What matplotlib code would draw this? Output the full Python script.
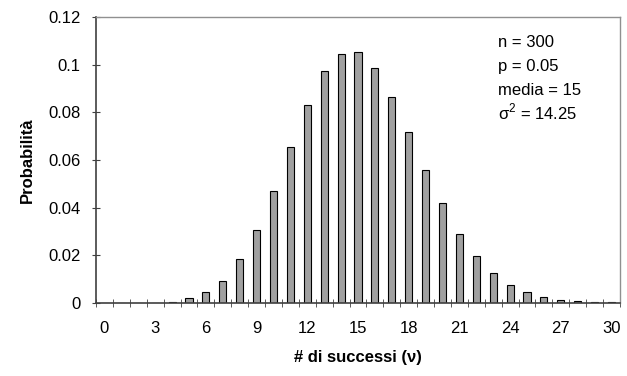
import matplotlib
matplotlib.use("Agg")
import matplotlib.pyplot as plt
import numpy as np

plt.rcParams['font.family'] = ['Liberation Sans', 'DejaVu Sans']

# numero di successi e probabilita
successi = list(range(31))
prob = [0, 0, 0, 0.0002, 0.0006, 0.002, 0.0045, 0.0092, 0.0185, 0.0306,
        0.0471, 0.0656, 0.0832, 0.0972, 0.1046, 0.1052, 0.0985, 0.0863,
        0.0716, 0.0558, 0.0418, 0.0288, 0.0197, 0.0125, 0.0074, 0.0045,
        0.0026, 0.0013, 0.0007, 0.0006, 0.0003]
y_ticks = [0, 0.02, 0.04, 0.06, 0.08, 0.1, 0.12]
y_labels = ["0", "0.02", "0.04", "0.06", "0.08", "0.1", "0.12"]
info = ["n = 300", "p = 0.05", "media = 15", r"σ$^{\mathregular{2}}$ = 14.25"]

fs = 12

fig = plt.figure(figsize=(6.27, 3.76), dpi=100)
ax = fig.add_axes([96/627, 1-303/376, 524/627, 286/376])

ax.bar(successi, prob, width=0.42, color='#a0a0a0', edgecolor='black', linewidth=0.8)

ax.set_xlim(-0.5, 30.5)
ax.set_ylim(0, 0.12)

ax.set_yticks(y_ticks)
ax.set_yticklabels(y_labels)
ax.set_xticks(successi[::3])
ax.set_xticklabels([str(s) for s in successi[::3]])
ax.set_xticks(np.arange(-0.5, 31, 1), minor=True)

ax.tick_params(axis='x', which='major', length=0, pad=13, labelsize=fs)
ax.tick_params(axis='x', which='minor', direction='inout', length=6, color='#404040')
ax.tick_params(axis='y', direction='inout', length=6, pad=8, labelsize=fs, color='#404040')

for s in ['left', 'bottom']:
    ax.spines[s].set_color('#404040')
    ax.spines[s].set_linewidth(1.2)
for s in ['top', 'right']:
    ax.spines[s].set_color('#909090')
    ax.spines[s].set_linewidth(1.0)

ax.set_ylabel("Probabilità", fontsize=fs, fontweight='bold', labelpad=10)
ax.set_xlabel("# di successi (ν)", fontsize=fs, fontweight='bold', labelpad=10)

for i, t in enumerate(info):
    fig.text(498/627, 1 - (47 + i*24)/376, t, fontsize=fs, va='baseline', ha='left')

fig.savefig("out.png", dpi=100)
